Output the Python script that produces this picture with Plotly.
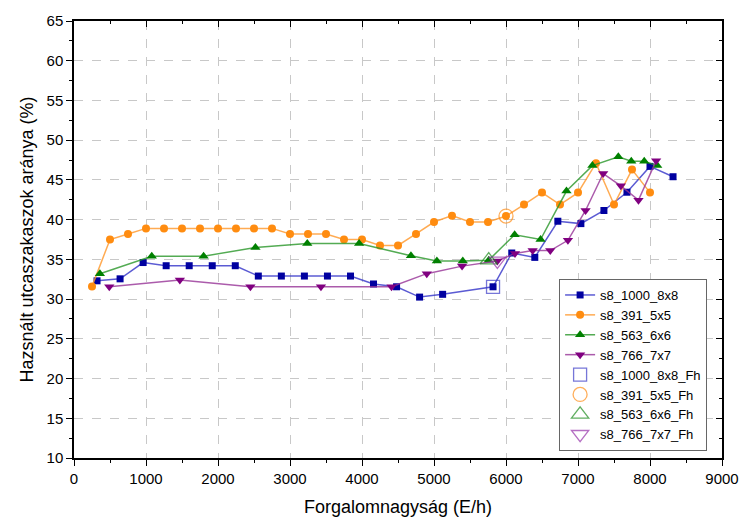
import plotly.graph_objects as go

# ---- data ----
blue_x = [320, 640, 960, 1280, 1600, 1920, 2240, 2560, 2880, 3200, 3520, 3840, 4160,
          4480, 4800, 5120, 5820, 6080, 6400, 6720, 7040, 7360, 7680, 8000, 8320]
blue_y = [32.3, 32.55, 34.6, 34.2, 34.2, 34.2, 34.2, 32.9, 32.9, 32.9, 32.9, 32.9, 31.9,
          31.55, 30.25, 30.6, 31.55, 35.8, 35.25, 39.8, 39.5, 41.15, 43.45, 46.7, 45.4]

orange_x = [250, 500, 750, 1000, 1250, 1500, 1750, 2000, 2250, 2500, 2750, 3000, 3250,
            3500, 3750, 4000, 4250, 4500, 4750, 5000, 5250, 5500, 5750, 6000, 6250, 6500,
            6750, 7000, 7250, 7500, 7750, 8000]
orange_y = [31.6, 37.5, 38.2, 38.9, 38.9, 38.9, 38.9, 38.9, 38.9, 38.9, 38.9, 38.2, 38.2,
            38.2, 37.5, 37.5, 36.75, 36.75, 38.2, 39.7, 40.5, 39.7, 39.7, 40.45, 41.9, 43.4,
            41.9, 43.4, 47.1, 41.9, 46.3, 43.4]

green_x = [360, 1080, 1800, 2520, 3240, 3960, 4680, 5040, 5400, 5760, 6120, 6480, 6840,
           7200, 7560, 7740, 7920, 8100]
green_y = [33.2, 35.4, 35.4, 36.5, 37.0, 37.0, 35.45, 34.8, 34.8, 34.9, 38.1, 37.5, 43.6,
           46.8, 47.9, 47.35, 47.35, 46.8]

purple_x = [490, 1470, 2450, 3430, 4410, 4900, 5390, 5880, 6125, 6370, 6615, 6860, 7105,
            7350, 7595, 7840, 8085]
purple_y = [31.55, 32.4, 31.55, 31.55, 31.55, 33.2, 34.15, 34.8, 35.75, 36.1, 36.1, 37.4,
            41.15, 45.8, 44.25, 42.45, 47.4]

blue_fh_x, blue_fh_y = [5820], [31.55]
orange_fh_x, orange_fh_y = [6000], [40.45]
green_fh_x, green_fh_y = [5760], [34.9]
purple_fh_x, purple_fh_y = [5880], [34.8]

names = ["s8_1000_8x8", "s8_391_5x5", "s8_563_6x6", "s8_766_7x7"]
fh_names = ["s8_1000_8x8_Fh", "s8_391_5x5_Fh", "s8_563_6x6_Fh", "s8_766_7x7_Fh"]

x_ticks = [0, 1000, 2000, 3000, 4000, 5000, 6000, 7000, 8000, 9000]
y_ticks = [10, 15, 20, 25, 30, 35, 40, 45, 50, 55, 60, 65]

FONT = "Liberation Sans, Arial, sans-serif"

fig = go.Figure()

series = [
    (blue_x, blue_y, "#0000a0", "rgba(50,50,200,0.8)", "square", 7),
    (orange_x, orange_y, "#ff8c10", "rgba(255,150,40,0.8)", "circle", 8),
    (green_x, green_y, "#008000", "rgba(40,150,40,0.8)", "triangle-up", 9),
    (purple_x, purple_y, "#800080", "rgba(150,50,150,0.8)", "triangle-down", 9),
]
for (xs, ys, mc, lc, sym, sz), nm in zip(series, names):
    fig.add_trace(go.Scatter(
        x=xs, y=ys, name=nm, mode="lines+markers",
        line=dict(color=lc, width=1.5),
        marker=dict(symbol=sym, size=sz, color=mc, line=dict(width=0)),
    ))

fh_series = [
    (blue_fh_x, blue_fh_y, "rgba(60,60,200,0.7)", "square-open", 13),
    (orange_fh_x, orange_fh_y, "rgba(255,140,20,0.7)", "circle-open", 14),
    (green_fh_x, green_fh_y, "rgba(30,140,30,0.7)", "triangle-up-open", 15),
    (purple_fh_x, purple_fh_y, "rgba(150,50,170,0.7)", "triangle-down-open", 15),
]
for (xs, ys, c, sym, sz), nm in zip(fh_series, fh_names):
    fig.add_trace(go.Scatter(
        x=xs, y=ys, name=nm, mode="markers",
        marker=dict(symbol=sym, size=sz, color=c, line=dict(width=1.3, color=c)),
    ))

# dummy trace so that the mirrored (inside-tick) top/right axes are drawn
fig.add_trace(go.Scatter(x=[None], y=[None], xaxis="x2", yaxis="y2",
                         showlegend=False, hoverinfo="skip"))

axis_common = dict(showline=True, linecolor="black", linewidth=1.5, automargin=False,
                   zeroline=False, tickcolor="black", tickwidth=1.2)

fig.update_layout(
    width=740, height=522,
    margin=dict(l=74, r=18, t=21, b=64),
    paper_bgcolor="white", plot_bgcolor="white",
    font=dict(family=FONT, size=15, color="black"),
    showlegend=True,
    legend=dict(
        x=0.977, y=0.016, xanchor="right", yanchor="bottom",
        bgcolor="white", bordercolor="#666666", borderwidth=1,
        font=dict(size=13, family=FONT), tracegroupgap=0,
    ),
    xaxis=dict(
        range=[0, 9000], tickmode="array", tickvals=x_ticks,
        ticks="outside", ticklen=6,
        minor=dict(dtick=500, ticks="outside", ticklen=3, tickcolor="black", showgrid=False),
        showgrid=True, gridcolor="#c8c8c8", griddash="dash", gridwidth=1,
        title=dict(text="Forgalomnagyság (E/h)", font=dict(size=18)),
        **axis_common,
    ),
    yaxis=dict(
        range=[10, 65], tickmode="array", tickvals=y_ticks,
        ticks="outside", ticklen=6,
        minor=dict(dtick=2.5, ticks="outside", ticklen=3, tickcolor="black", showgrid=False),
        showgrid=True, gridcolor="#c8c8c8", griddash="dash", gridwidth=1,
        title=dict(text="Hazsnált utcaszakaszok aránya (%)", font=dict(size=18), standoff=8),
        **axis_common,
    ),
    xaxis2=dict(
        overlaying="x", side="top", range=[0, 9000], tickmode="array", tickvals=x_ticks,
        ticks="inside", ticklen=6, showticklabels=False, showgrid=False,
        minor=dict(dtick=500, ticks="inside", ticklen=3, tickcolor="black"),
        **axis_common,
    ),
    yaxis2=dict(
        overlaying="y", side="right", range=[10, 65], tickmode="array", tickvals=y_ticks,
        ticks="inside", ticklen=6, showticklabels=False, showgrid=False,
        minor=dict(dtick=2.5, ticks="inside", ticklen=3, tickcolor="black"),
        **axis_common,
    ),
)

fig.write_html(
    "out.html",
    config={"displayModeBar": False},
    post_script="document.body.style.margin='0';document.body.style.overflow='hidden';",
)
